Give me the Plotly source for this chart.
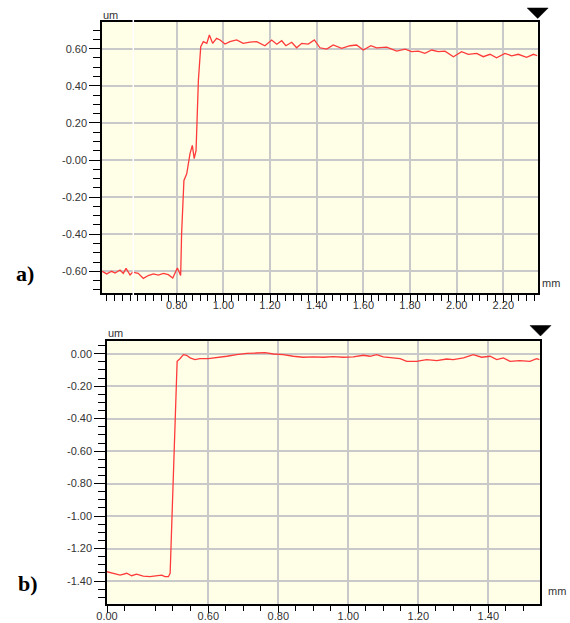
import plotly.graph_objects as go

# ---------------- data: profile (a) ----------------
a_x = [0.481, 0.500, 0.521, 0.536, 0.557, 0.571, 0.583, 0.600, 0.611, 0.635, 0.657, 0.678,
       0.700, 0.721, 0.743, 0.764, 0.783, 0.803, 0.817, 0.821, 0.831, 0.843, 0.857, 0.867,
       0.875, 0.883, 0.893, 0.903, 0.914, 0.929, 0.940, 0.954, 0.971, 0.986, 1.007, 1.028,
       1.057, 1.085, 1.114, 1.143, 1.178, 1.207, 1.229, 1.250, 1.268, 1.293, 1.314, 1.336,
       1.364, 1.390, 1.414, 1.443, 1.471, 1.507, 1.543, 1.571, 1.600, 1.632, 1.657, 1.700,
       1.743, 1.779, 1.807, 1.836, 1.864, 1.893, 1.921, 1.950, 1.986, 2.021, 2.050, 2.086,
       2.114, 2.143, 2.171, 2.207, 2.236, 2.264, 2.300, 2.329, 2.346]
a_y = [-0.600, -0.614, -0.600, -0.609, -0.593, -0.611, -0.584, -0.620, -0.605, -0.611, -0.638, -0.623,
       -0.614, -0.620, -0.611, -0.618, -0.636, -0.582, -0.623, -0.398, -0.110, -0.074, 0.034, 0.079,
       0.007, 0.052, 0.431, 0.611, 0.638, 0.629, 0.674, 0.629, 0.656, 0.647, 0.625, 0.638,
       0.647, 0.629, 0.635, 0.638, 0.616, 0.647, 0.624, 0.643, 0.616, 0.635, 0.605, 0.629,
       0.625, 0.647, 0.605, 0.598, 0.620, 0.602, 0.616, 0.620, 0.593, 0.616, 0.605, 0.609,
       0.587, 0.598, 0.584, 0.587, 0.575, 0.593, 0.584, 0.587, 0.557, 0.584, 0.570, 0.575,
       0.557, 0.570, 0.551, 0.575, 0.562, 0.570, 0.554, 0.570, 0.562]

# ---------------- data: profile (b) ----------------
b_x = [0.310, 0.329, 0.348, 0.367, 0.381, 0.395, 0.414, 0.433, 0.453, 0.467, 0.476, 0.486,
       0.491, 0.495, 0.500, 0.508, 0.511, 0.519, 0.529, 0.538, 0.548, 0.562, 0.576,
       0.600, 0.624, 0.653, 0.681, 0.710, 0.738, 0.762, 0.786, 0.814, 0.843, 0.871, 0.900,
       0.929, 0.957, 0.986, 1.014, 1.043, 1.062, 1.081, 1.100, 1.124, 1.148, 1.167, 1.195,
       1.224, 1.253, 1.281, 1.300, 1.329, 1.357, 1.381, 1.405, 1.424, 1.443, 1.462, 1.490,
       1.519, 1.538, 1.546]
b_y = [-1.342, -1.352, -1.363, -1.352, -1.367, -1.357, -1.369, -1.373, -1.369, -1.363, -1.373, -1.373,
       -1.352, -1.065, -0.700, -0.150, -0.047, -0.031, -0.006, -0.010, -0.026, -0.037, -0.031,
       -0.031, -0.026, -0.016, -0.006, 0.002, 0.004, 0.006, -0.002, -0.006, -0.016, -0.022, -0.020,
       -0.022, -0.018, -0.022, -0.020, -0.010, -0.016, -0.006, -0.020, -0.026, -0.031, -0.047, -0.047,
       -0.037, -0.043, -0.033, -0.037, -0.026, -0.006, -0.022, -0.016, -0.037, -0.026, -0.047, -0.043,
       -0.047, -0.031, -0.037]

# ---------------- tick labels ----------------
a_xtick_vals = [0.8, 1.0, 1.2, 1.4, 1.6, 1.8, 2.0, 2.2]
a_xtick_text = ["0.80", "1.00", "1.20", "1.40", "1.60", "1.80", "2.00", "2.20"]
a_ytick_vals = [-0.6, -0.4, -0.2, 0.0, 0.2, 0.4, 0.6]
a_ytick_text = ["-0.60", "-0.40", "-0.20", "-0.00", "0.20", "0.40", "0.60"]

b_xtick_vals = [0.3106, 0.6, 0.8, 1.0, 1.2, 1.4]
b_xtick_text = ["0.00", "0.60", "0.80", "1.00", "1.20", "1.40"]
b_xminor_vals = [0.36, 0.448, 0.498, 0.548, 0.65, 0.70, 0.75, 0.85, 0.90, 0.95, 1.05, 1.10, 1.15,
                 1.25, 1.30, 1.35, 1.45, 1.50]
b_ytick_vals = [-1.4, -1.2, -1.0, -0.8, -0.6, -0.4, -0.2, 0.0]
b_ytick_text = ["-1.40", "-1.20", "-1.00", "-0.80", "-0.60", "-0.40", "-0.20", "0.00"]

W, H = 570, 623
LINE = "#FF3A3A"
GRID = "#C9C9C9"
TXT = "#333333"
FONT = "Liberation Sans, Arial, sans-serif"

fig = go.Figure()
fig.add_trace(go.Scatter(x=a_x, y=a_y, mode="lines", line=dict(color=LINE, width=1.3),
                         xaxis="x", yaxis="y", showlegend=False, hoverinfo="skip"))
fig.add_trace(go.Scatter(x=b_x, y=b_y, mode="lines", line=dict(color=LINE, width=1.3),
                         xaxis="x2", yaxis="y2", showlegend=False, hoverinfo="skip"))


def px_x(p):
    return p / W


def px_y(p):
    return 1 - p / H


common = dict(showline=True, linecolor="black", linewidth=1.5, mirror=True,
              ticks="outside", tickcolor="black", tickwidth=1, automargin=False,
              tickfont=dict(family=FONT, size=11, color=TXT),
              showgrid=True, gridcolor=GRID, gridwidth=1.5, zeroline=False)

fig.update_layout(
    width=W, height=H, autosize=False,
    margin=dict(l=0, r=0, t=0, b=0, pad=0, autoexpand=False),
    paper_bgcolor="white",
    plot_bgcolor="#FFFEE6",
    font=dict(family=FONT, size=11, color=TXT),
    xaxis=dict(domain=[px_x(102), px_x(537.5)], range=[0.4798, 2.3465], anchor="y",
               tickmode="array", tickvals=a_xtick_vals, ticktext=a_xtick_text, ticklen=8,
               ticklabelstandoff=-7,
               minor=dict(tickmode="linear", tick0=0.8, dtick=1 / 30, ticklen=6, ticks="outside",
                          tickcolor="black", showgrid=False),
               **common),
    yaxis=dict(domain=[px_y(293), px_y(22)], range=[-0.717, 0.744], anchor="x",
               tickmode="array", tickvals=a_ytick_vals, ticktext=a_ytick_text, ticklen=11,
               minor=dict(tickmode="linear", tick0=0, dtick=0.05, ticklen=7, ticks="outside",
                          tickcolor="black", showgrid=False),
               **common),
    xaxis2=dict(domain=[px_x(107), px_x(540)], range=[0.3106, 1.5477], anchor="y2",
                tickmode="array", tickvals=b_xtick_vals, ticktext=b_xtick_text, ticklen=8,
                ticklabelstandoff=-6,
                minor=dict(tickmode="array", tickvals=b_xminor_vals, ticklen=6, ticks="outside",
                           tickcolor="black", showgrid=False),
                **common),
    yaxis2=dict(domain=[px_y(603.5), px_y(340.5)], range=[-1.538, 0.081], anchor="x2",
                tickmode="array", tickvals=b_ytick_vals, ticktext=b_ytick_text, ticklen=11,
                minor=dict(tickmode="linear", tick0=0, dtick=0.05, ticklen=7, ticks="outside",
                           tickcolor="black", showgrid=False),
                **common),
)

annots = [
    dict(text="um", x=px_x(110), y=px_y(15)),
    dict(text="mm", x=px_x(551), y=px_y(283)),
    dict(text="um", x=px_x(115), y=px_y(333)),
    dict(text="mm", x=px_x(557), y=px_y(591)),
]
for a in annots:
    fig.add_annotation(xref="paper", yref="paper", showarrow=False, xanchor="center",
                       yanchor="middle", font=dict(family=FONT, size=11, color=TXT), **a)

for lbl, cx, cy in [("a)", 25, 273), ("b)", 28, 583)]:
    fig.add_annotation(xref="paper", yref="paper", showarrow=False, xanchor="center",
                       yanchor="middle", text="<b>%s</b>" % lbl, x=px_x(cx), y=px_y(cy),
                       font=dict(family="Liberation Serif, Times New Roman, serif", size=22,
                                 color="black"))

# white scan artefact stripe in panel (a)
fig.add_shape(type="line", xref="paper", yref="paper", x0=px_x(133.3), x1=px_x(133.3),
              y0=px_y(296), y1=px_y(20), line=dict(color="white", width=1.5), layer="above")


# position-marker triangles at top-right of each panel
def tri(xc, ytop, w, h):
    x0, x1 = px_x(xc - w / 2), px_x(xc + w / 2)
    return "M %f %f L %f %f L %f %f Z" % (x0, px_y(ytop), x1, px_y(ytop), px_x(xc), px_y(ytop + h))


fig.add_shape(type="path", xref="paper", yref="paper", path=tri(537.7, 8, 21, 10.5),
              fillcolor="black", line=dict(color="black", width=0.5))
fig.add_shape(type="path", xref="paper", yref="paper", path=tri(540.5, 325.5, 21, 10.5),
              fillcolor="black", line=dict(color="black", width=0.5))

# remove the browser's default 8px body margin so the figure sits at the page origin
fig.write_html("out.html",
               config={"displayModeBar": False},
               post_script="document.body.style.margin='0';document.body.style.padding='0';")
